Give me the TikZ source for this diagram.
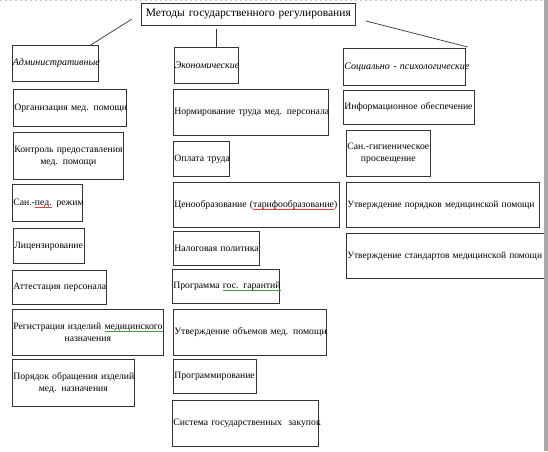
\documentclass[tikz,border=0pt]{standalone}
\usepackage{fontspec}
\setmainfont{Liberation Serif}
\usetikzlibrary{calc}
\definecolor{boxline}{HTML}{333333}
\definecolor{stripe}{HTML}{A8A8A8}
\definecolor{spellred}{HTML}{E04040}
\definecolor{spellgreen}{HTML}{40A040}
\newlength\sqw
\newcommand\sq[2]{\settowidth\sqw{#2}\rlap{\color{#1}\rule[-2pt]{\sqw}{0.5pt}}#2}
\tikzset{
  box/.style={draw=boxline, line width=0.7pt, inner xsep=1pt, inner ysep=0pt, align=left,
              font=\fontsize{9.7}{12}\selectfont},
  catbox/.style={box, font=\fontsize{10}{12}\selectfont\itshape},
  titlebox/.style={box, align=center, font=\fontsize{11.5}{14}\selectfont},
  twoline/.style={align=center},
  narrow/.style={font=\fontsize{9.5}{12}\selectfont},
  conn/.style={draw=boxline, line width=0.7pt}
}
\newcommand\itembox[7][]{%
  \pgfmathsetmacro\tw{#5-#3-2}%
  \pgfmathsetmacro\bw{#5-#3}%
  \pgfmathsetmacro\bh{#6-#4}%
  \node[box, #1, anchor=north west, minimum width=\bw pt, minimum height=\bh pt, text width=\tw pt] (#2) at (#3,#4) {#7};}
\begin{document}
\begin{tikzpicture}[x=1pt,y=-1pt]
\useasboundingbox (0,0) rectangle (548,451);
\fill[white] (0,0) rectangle (548,451);
\draw[stripe!60, line width=0.6pt, dash pattern=on 2pt off 3pt] (0,0.5) -- (544,0.5);
% title
\itembox[titlebox]{title}{141}{3}{355}{25}{\mbox{Методы государственного регулирования}}
% categories
\itembox[catbox]{adm}{11.5}{45}{98}{81}{\mbox{Административные}}
\itembox[catbox]{eco}{173.5}{47}{238}{83}{\mbox{Экономические}}
\itembox[catbox]{soc}{343}{48}{465}{85}{\mbox{Социально - психологические}}
% connectors
\coordinate (c1) at (132,19);
\coordinate (c2) at (216.5,29);
\coordinate (c3) at (366,21);
\draw[conn] (c1) -- ($(adm.north east)+(-8,0)$);
\draw[conn] (c2) -- (c2 |- eco.north);
\draw[conn] (c3) -- ($(soc.north east)+(2,-1)$);
% left column
\itembox{l1}{13}{89}{126}{126}{\mbox{Организация мед. помощи}}
\itembox[twoline]{l2}{13}{132}{123}{179}{\mbox{Контроль предоставления}\\\mbox{мед. помощи}}
\itembox{l3}{12}{184}{82}{221}{\mbox{Сан.-\sq{spellred}{пед.} режим}}
\itembox{l4}{13}{228}{84}{263}{\mbox{Лицензирование}}
\itembox{l5}{12}{270}{106}{304}{\mbox{Аттестация персонала}}
\itembox[twoline]{l6}{12}{309}{163}{355}{\mbox{Регистрация изделий \sq{spellgreen}{медицинского}}\\\mbox{назначения}}
\itembox[twoline]{l7}{12}{359}{134}{406}{\mbox{Порядок обращения изделий}\\\mbox{мед. назначения}}
% middle column
\itembox{m1}{173}{89}{328}{135}{\mbox{Нормирование труда мед. персонала}}
\itembox{m2}{173}{141}{229}{176}{\mbox{Оплата труда}}
\itembox{m3}{173}{182}{339}{227}{\mbox{Ценообразование (\sq{spellred}{тарифообразование})}}
\itembox{m4}{173}{231}{259}{265}{\mbox{Налоговая политика}}
\itembox{m5}{172}{269}{279}{303}{\mbox{Программа \sq{spellgreen}{гос. гарантий}}}
\itembox{m6}{173}{309}{326}{355}{\mbox{Утверждение объемов мед. помощи}}
\itembox{m7}{173}{359}{256}{393}{\mbox{Программирование}}
\itembox{m8}{172}{400}{318}{446}{\mbox{Система государственных \ закупок}}
% right column
\itembox{r1}{343}{90}{474}{124}{\mbox{Информационное обеспечение}}
\itembox[twoline]{r2}{346}{130}{430}{176}{\mbox{Сан.-гигиеническое}\\\mbox{просвещение}}
\itembox[narrow]{r3}{346}{182}{539}{227}{\mbox{Утверждение порядков медицинской помощи}}
\itembox[narrow]{r4}{346}{233}{556}{278}{\mbox{Утверждение стандартов медицинской помощи}}
% window edge
\fill[stripe] (544,0) rectangle (548,451);
\end{tikzpicture}
\end{document}
